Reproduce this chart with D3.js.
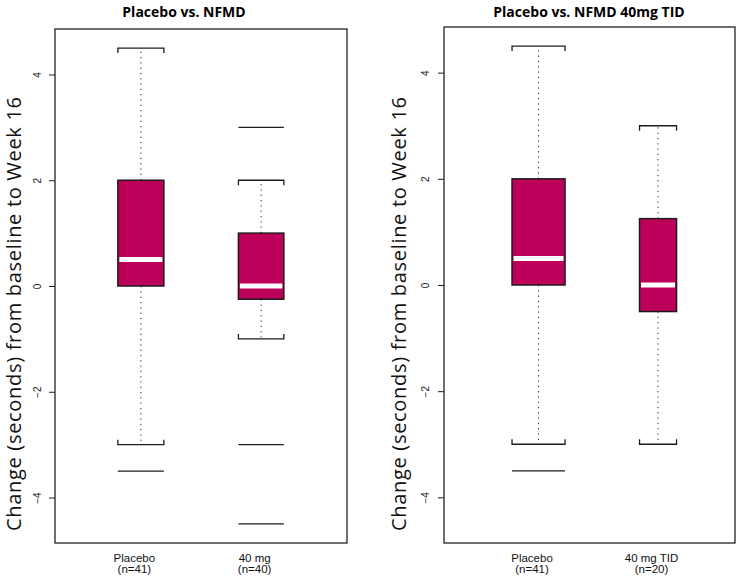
<!DOCTYPE html>
<html>
<head>
<meta charset="utf-8">
<script src="https://cdn.jsdelivr.net/npm/d3@7"></script>
<style>
  body { margin: 0; background: #fff; }
  svg text { white-space: pre; }
</style>
</head>
<body>
<svg id="chart" width="737" height="578"></svg>
<script>
// ---- data ----
const panelTitles = ["Placebo vs. NFMD", "Placebo vs. NFMD 40mg TID"];
const yLabel = "Change (seconds) from baseline to Week 16";
const yTicks = [-4, -2, 0, 2, 4];

// left panel: all NFMD 40 mg vs placebo
const leftGroups = ["Placebo", "40 mg"];
const leftN = [41, 40];
const leftLower = [-3, -1];
const leftQ1 = [0, -0.25];
const leftMedian = [0.5, 0];
const leftQ3 = [2, 1];
const leftUpper = [4.5, 2];
const leftOutliers = [[-3.5], [3, -3, -4.5]];

// right panel: NFMD 40 mg TID vs placebo
const rightGroups = ["Placebo", "40 mg TID"];
const rightN = [41, 20];
const rightLower = [-3, -3];
const rightQ1 = [0, -0.5];
const rightMedian = [0.5, 0];
const rightQ3 = [2, 1.25];
const rightUpper = [4.5, 3];
const rightOutliers = [[-3.5], []];

// ---- layout ----
const panels = [
  {
    title: panelTitles[0], groups: leftGroups, n: leftN,
    lower: leftLower, q1: leftQ1, median: leftMedian, q3: leftQ3, upper: leftUpper, outliers: leftOutliers,
    x0: 55, x1: 347, y0: 29, y1: 543, xDomain: [0.286, 2.714], maxBox: 46,
    titleX: 184, tickLabelX: 37, axisTitleX: 14
  },
  {
    title: panelTitles[1], groups: rightGroups, n: rightN,
    lower: rightLower, q1: rightQ1, median: rightMedian, q3: rightQ3, upper: rightUpper, outliers: rightOutliers,
    x0: 444, x1: 735, y0: 27, y1: 543, xDomain: [0.209, 2.644], maxBox: 53,
    titleX: 589, tickLabelX: 425, axisTitleX: 399
  }
];

const boxFill = "#BD0059";
const ink = "#1c1c1c";
const svg = d3.select("#chart");

panels.forEach(p => {
  const g = svg.append("g");
  const x = d3.scaleLinear().domain(p.xDomain).range([p.x0, p.x1]);
  const y = d3.scaleLinear().domain([-4.86, 4.86]).range([p.y1, p.y0]);
  const maxSqrt = Math.sqrt(d3.max(p.n));

  // title
  g.append("text")
    .attr("x", p.titleX).attr("y", 17)
    .attr("text-anchor", "middle")
    .style("font-family", "'Open Sans', sans-serif")
    .style("font-weight", "bold")
    .style("font-size", "14px")
    .attr("fill", "#000")
    .text(p.title);

  // y axis
  const axis = g.append("g")
    .attr("transform", `translate(${p.x0},0)`)
    .call(d3.axisLeft(y).tickValues(yTicks).tickSize(6).tickFormat(d3.format("d")));
  axis.select(".domain").remove();
  axis.selectAll(".tick line").attr("stroke", ink).attr("stroke-width", 1);
  axis.selectAll(".tick text")
    .attr("x", null).attr("dy", "0.35em")
    .attr("transform", `translate(${p.tickLabelX - p.x0},0) rotate(-90)`)
    .attr("text-anchor", "middle")
    .attr("fill", "#222")
    .style("font-family", "'Liberation Sans', Arial, sans-serif")
    .style("font-size", "10px");

  // y axis title
  g.append("text")
    .attr("transform", `translate(${p.axisTitleX},${314}) rotate(-90)`)
    .attr("dy", "0.35em")
    .attr("text-anchor", "middle")
    .attr("textLength", 434)
    .attr("lengthAdjust", "spacing")
    .style("font-family", "'Open Sans', sans-serif")
    .style("font-size", "20px")
    .attr("fill", "#111")
    .text(yLabel);

  // boxes
  p.groups.forEach((name, i) => {
    const cx = x(i + 1);
    const w = p.maxBox * Math.sqrt(p.n[i]) / maxSqrt;
    const l = cx - w / 2, r = cx + w / 2;

    // dotted whiskers
    [[p.q3[i], p.upper[i]], [p.q1[i], p.lower[i]]].forEach(([a, b]) => {
      g.append("line")
        .attr("x1", cx).attr("x2", cx)
        .attr("y1", y(a)).attr("y2", y(b))
        .attr("stroke", "#333").attr("stroke-width", 1)
        .attr("stroke-dasharray", "1.3,4");
    });

    // staples with short end ticks
    const yu = y(p.upper[i]), yl = y(p.lower[i]);
    g.append("path")
      .attr("d", `M${l},${yu + 5}V${yu}H${r}V${yu + 5}`)
      .attr("fill", "none").attr("stroke", ink).attr("stroke-width", 1.3);
    g.append("path")
      .attr("d", `M${l},${yl - 5}V${yl}H${r}V${yl - 5}`)
      .attr("fill", "none").attr("stroke", ink).attr("stroke-width", 1.3);

    // box
    g.append("rect")
      .attr("x", l).attr("y", y(p.q3[i]))
      .attr("width", w).attr("height", y(p.q1[i]) - y(p.q3[i]))
      .attr("fill", boxFill).attr("stroke", ink).attr("stroke-width", 1.5);

    // median
    g.append("line")
      .attr("x1", l + 1.5).attr("x2", r - 1.5)
      .attr("y1", y(p.median[i])).attr("y2", y(p.median[i]))
      .attr("stroke", "#fff").attr("stroke-width", 5);

    // outliers drawn as dashes
    p.outliers[i].forEach(o => {
      g.append("line")
        .attr("x1", l).attr("x2", r)
        .attr("y1", y(o)).attr("y2", y(o))
        .attr("stroke", ink).attr("stroke-width", 1.3);
    });

    // group label
    const lab = g.append("text")
      .attr("text-anchor", "middle")
      .style("font-family", "'Liberation Sans', Arial, sans-serif")
      .style("font-size", "11.5px")
      .attr("fill", "#111");
    lab.append("tspan").attr("x", cx - 6.5).attr("y", 562).text(name);
    lab.append("tspan").attr("x", cx - 6.5).attr("y", 572.5).text(`(n=${p.n[i]})`);
  });

  // plot frame
  g.append("rect")
    .attr("x", p.x0).attr("y", p.y0)
    .attr("width", p.x1 - p.x0).attr("height", p.y1 - p.y0)
    .attr("fill", "none").attr("stroke", "#222").attr("stroke-width", 1.3);
});
</script>
</body>
</html>
